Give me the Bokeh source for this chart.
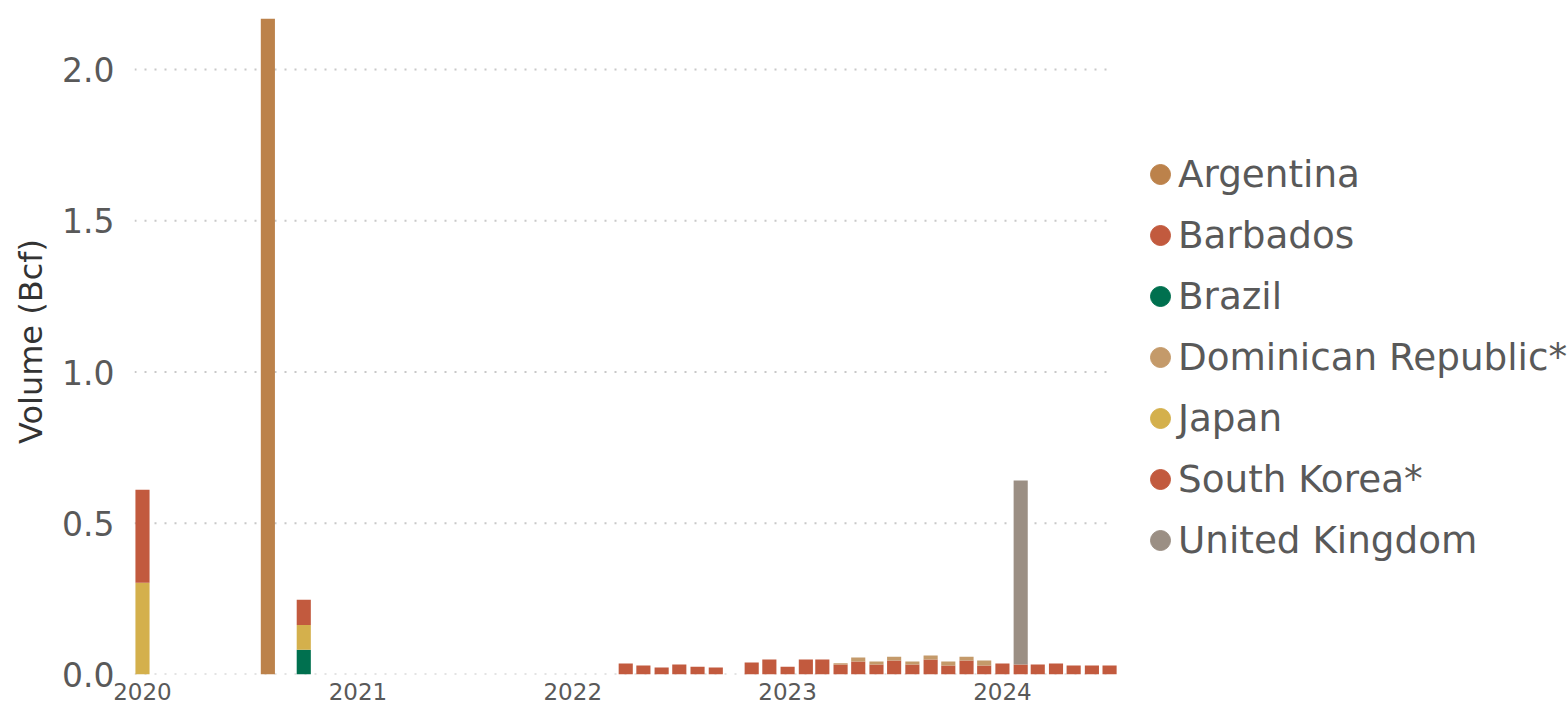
from datetime import datetime, timedelta
from bokeh.plotting import figure
from bokeh.models import ColumnDataSource, Range1d, Legend, LegendItem, FixedTicker, CustomJSTickFormatter, NumeralTickFormatter
from bokeh.embed import file_html
from bokeh.resources import INLINE

# ---- data (Bcf) ----
months = ["2020-01", "2020-08", "2020-10",
          "2022-04", "2022-05", "2022-06", "2022-07", "2022-08", "2022-09",
          "2022-11", "2022-12",
          "2023-01", "2023-02", "2023-03", "2023-04", "2023-05", "2023-06",
          "2023-07", "2023-08", "2023-09", "2023-10", "2023-11", "2023-12",
          "2024-01", "2024-02", "2024-03", "2024-04", "2024-05", "2024-06", "2024-07"]
argentina = [0, 2.168, 0] + [0] * 27
barbados = [0, 0, 0,
            0.036, 0.030, 0.023, 0.033, 0.026, 0.023,
            0.040, 0.050,
            0.026, 0.050, 0.050, 0.033, 0.043, 0.033,
            0.046, 0.033, 0.050, 0.030, 0.046, 0.030,
            0.036, 0.033, 0.033, 0.036, 0.030, 0.030, 0.030]
brazil = [0, 0, 0.082] + [0] * 27
dominican = [0, 0, 0,
             0, 0, 0, 0, 0, 0,
             0, 0,
             0, 0, 0, 0.004, 0.013, 0.010,
             0.013, 0.010, 0.013, 0.013, 0.013, 0.016,
             0, 0, 0, 0, 0, 0, 0]
japan = [0.303, 0, 0.082] + [0] * 27
south_korea = [0.308, 0, 0.083] + [0] * 27
united_kingdom = [0] * 24 + [0.608] + [0] * 5

series = ["Argentina", "Barbados", "Brazil", "Dominican Republic*", "Japan", "South Korea*", "United Kingdom"]
keys = ["argentina", "barbados", "brazil", "dominican", "japan", "south_korea", "united_kingdom"]
colors = ["#BC824B", "#C25A3E", "#00704F", "#C49A6A", "#D4B04C", "#C25A3E", "#9B8F84"]
year_ticks = [2020, 2021, 2022, 2023, 2024]
y_ticks = [0, 0.5, 1.0, 1.5, 2.0]

dates = [datetime.strptime(m + "-01", "%Y-%m-%d") for m in months]
source = ColumnDataSource(dict(
    x=dates, argentina=argentina, barbados=barbados, brazil=brazil,
    dominican=dominican, japan=japan, south_korea=south_korea,
    united_kingdom=united_kingdom))

TEXT = "#595959"
FONT = "DejaVu Sans"

# layout constants
W, H = 1568, 710
LEFT, TOP, BOTTOM = 134, 8, 36
PX_PER_DAY = 0.5886
frame_w = W - LEFT
x_start = datetime(2019, 12, 18, 10)
x_end = x_start + timedelta(days=frame_w / PX_PER_DAY)
grid_end = datetime(2024, 7, 2)
y_end = (H - BOTTOM - TOP) / 302.5

p = figure(width=W, height=H, x_axis_type="datetime",
           x_range=Range1d(x_start, x_end),
           y_range=Range1d(0, y_end),
           output_backend="svg", toolbar_location=None,
           min_border_left=LEFT, min_border_right=0, min_border_top=TOP, min_border_bottom=BOTTOM)
p.outline_line_color = None
p.background_fill_color = "white"
p.border_fill_color = "white"

# dotted horizontal gridlines, limited to the data area
p.segment(x0=[x_start] * len(y_ticks), x1=[grid_end] * len(y_ticks), y0=y_ticks, y1=y_ticks,
          line_color="#c8c8c8", line_dash="2 8", line_width=2)

bar_w = timedelta(days=24).total_seconds() * 1000
renderers = p.vbar_stack(keys, x="x", width=bar_w, color=colors, source=source, line_width=0)

# legend: one legend draws the circle markers, a second one draws the labels
dot_items, text_items = [], []
for name, c in zip(series, colors):
    r = p.scatter(x=[datetime(2021, 6, 1)], y=[-5], marker="circle", size=20, color=c)
    r_blank = p.scatter(x=[datetime(2021, 6, 1)], y=[-5], marker="circle", size=1, alpha=0)
    dot_items.append(LegendItem(label=" ", renderers=[r]))
    text_items.append(LegendItem(label=name, renderers=[r_blank]))


def style_legend(lg, gw):
    lg.border_line_color = None
    lg.background_fill_alpha = 0
    lg.label_text_font = FONT
    lg.label_text_font_size = "37.3px"
    lg.label_text_color = TEXT
    lg.glyph_width = gw
    lg.glyph_height = 50
    lg.label_standoff = 0
    lg.label_height = 40
    lg.spacing = 11
    lg.padding = 0
    lg.margin = 0


dot_legend = Legend(items=dot_items, location=(1001, 109))
style_legend(dot_legend, 50)
text_legend = Legend(items=text_items, location=(1043, 109))
style_legend(text_legend, 1)
p.add_layout(dot_legend, "center")
p.add_layout(text_legend, "center")

# axes
p.xaxis.ticker = FixedTicker(ticks=[datetime(y, 1, 1).timestamp() * 1000 for y in year_ticks])
p.xaxis.formatter = CustomJSTickFormatter(code="var d = new Date(tick + 43200000); return String(d.getUTCFullYear());")
p.xaxis.axis_line_color = None
p.xaxis.major_tick_line_color = None
p.xaxis.minor_tick_line_color = None
p.xaxis.major_tick_out = 0
p.xaxis.minor_tick_out = 0
p.xaxis.major_label_text_font = FONT
p.xaxis.major_label_text_font_size = "23px"
p.xaxis.major_label_text_color = TEXT
p.xaxis.major_label_standoff = 8

p.yaxis.ticker = FixedTicker(ticks=y_ticks)
p.yaxis.formatter = NumeralTickFormatter(format="0.0")
p.yaxis.axis_line_color = None
p.yaxis.major_tick_line_color = None
p.yaxis.minor_tick_line_color = None
p.yaxis.major_tick_out = 0
p.yaxis.minor_tick_out = 0
p.yaxis.major_label_text_font = FONT
p.yaxis.major_label_text_font_size = "33px"
p.yaxis.major_label_text_color = TEXT
p.yaxis.major_label_standoff = 20
p.yaxis.axis_label = "Volume (Bcf)"
p.yaxis.axis_label_text_font = FONT
p.yaxis.axis_label_text_font_size = "32px"
p.yaxis.axis_label_text_font_style = "normal"
p.yaxis.axis_label_text_color = "#333333"
p.yaxis.axis_label_standoff = 9

p.xgrid.grid_line_color = None
p.ygrid.grid_line_color = None

open("out.html", "w").write(file_html(p, INLINE))
